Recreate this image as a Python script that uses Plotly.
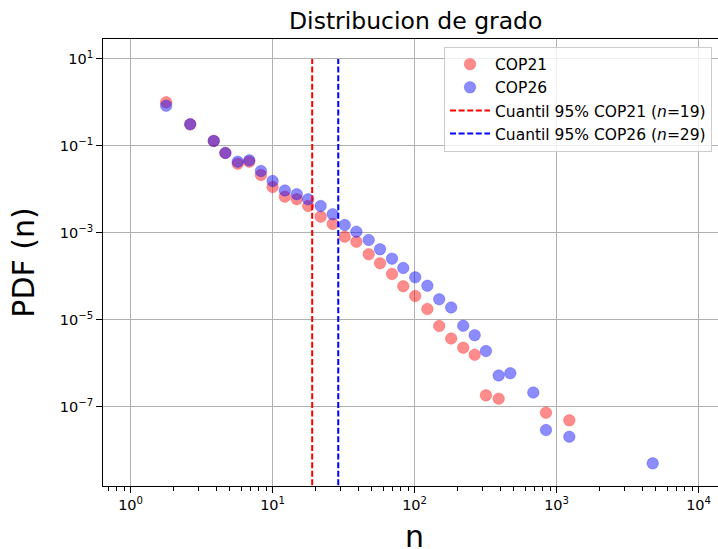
import plotly.graph_objects as go

# Log-binned degree values (bin centres) and probability densities
n_bins = [1.78, 2.63, 3.85, 4.65, 5.68, 6.85, 8.28, 10.0, 12.2, 14.8, 17.8,
          21.8, 26.5, 32.2, 38.9, 47.5, 57.1, 69.3, 83.2, 101, 123, 149, 181,
          220, 265, 318, 391, 472, 685, 842, 1229, 4751]

pdf_cop21 = [1.01, 0.314, 0.130, 0.0687, 0.0389, 0.0433, 0.0214, 0.0113,
             0.00678, 0.00593, 0.00414, 0.00235, 0.00160, 8.13e-4, 6.24e-4,
             3.20e-4, 1.99e-4, 1.13e-4, 5.90e-5, 3.51e-5, 1.76e-5, 7.16e-6,
             3.69e-6, 2.27e-6, 1.56e-6, 1.82e-7, 1.52e-7, None, None,
             7.24e-8, 4.84e-8, None]

pdf_cop26 = [0.842, 0.314, 0.130, 0.0687, 0.0433, 0.0466, 0.0264, 0.0156,
             0.00941, 0.00773, 0.00590, 0.00414, 0.00267, 0.00151, 0.00106,
             6.83e-4, 4.17e-4, 2.54e-4, 1.55e-4, 9.46e-5, 6.03e-5, 2.95e-5,
             1.91e-5, 7.24e-6, 4.40e-6, 1.90e-6, 5.20e-7, 5.87e-7, 2.11e-7,
             2.89e-8, 2.03e-8, 4.95e-9]

q95_cop21 = 19
q95_cop26 = 29
vline_top = 10
vline_bottom = 1e-10

x_tickvals = [1, 10, 100, 1000, 10000]
x_ticktext = ["10<sup>0</sup>", "10<sup>1</sup>", "10<sup>2</sup>",
              "10<sup>3</sup>", "10<sup>4</sup>"]
y_tickvals = [10, 0.1, 1e-3, 1e-5, 1e-7]
y_ticktext = ["10<sup>1</sup>", "10<sup>\u22121</sup>", "10<sup>\u22123</sup>",
              "10<sup>\u22125</sup>", "10<sup>\u22127</sup>"]

# minor log ticks (2..9 within each decade)
x_minor = [k * 10 ** e for e in range(-1, 5) for k in range(2, 10)]

FONT = "DejaVu Sans"

fig = go.Figure()

fig.add_trace(go.Scatter(
    x=n_bins, y=pdf_cop21, mode="markers", name="COP21",
    legendgroup="a",
    marker=dict(size=11.5, color="rgba(255,0,0,0.45)",
                line=dict(width=1, color="rgba(255,0,0,0.25)")),
))
fig.add_trace(go.Scatter(
    x=n_bins, y=pdf_cop26, mode="markers", name="COP26",
    legendgroup="b",
    marker=dict(size=11.5, color="rgba(0,0,255,0.45)",
                line=dict(width=1, color="rgba(0,0,255,0.25)")),
))
fig.add_trace(go.Scatter(
    x=[q95_cop21, q95_cop21], y=[vline_bottom, vline_top], mode="lines",
    name=f"Cuantil 95% COP21 (<i>n</i>={q95_cop21})",
    legendgroup="c",
    line=dict(color="red", width=2, dash="6px,2.6px"),
))
fig.add_trace(go.Scatter(
    x=[q95_cop26, q95_cop26], y=[vline_bottom, vline_top], mode="lines",
    name=f"Cuantil 95% COP26 (<i>n</i>={q95_cop26})",
    legendgroup="d",
    line=dict(color="blue", width=2, dash="6px,2.6px"),
))

fig.update_layout(
    width=718, height=549,
    margin=dict(l=103, r=0, t=39, b=63),
    paper_bgcolor="white", plot_bgcolor="white",
    font=dict(family=FONT, size=14.5, color="black"),
    title=dict(text="Distribucion de grado", x=0.579, xanchor="center",
               y=0.963, yanchor="middle", font=dict(size=23.5)),
    showlegend=True,
    legend=dict(x=0.5545, y=0.983, xanchor="left", yanchor="top",
                bgcolor="rgba(255,255,255,0.8)", bordercolor="#cccccc",
                borderwidth=1, font=dict(size=15.5), tracegroupgap=0,
                itemwidth=40),
)

# x-axis label placed as a paper-anchored annotation below the tick labels
fig.add_annotation(
    text="n", xref="paper", yref="paper", x=0.507, y=-0.113,
    xanchor="center", yanchor="middle", showarrow=False,
    font=dict(size=30, family=FONT, color="black"),
)

fig.update_xaxes(
    type="log", range=[-0.1944, 4.1366], automargin=False,
    tickvals=x_tickvals, ticktext=x_ticktext,
    ticks="outside", ticklen=6, tickcolor="black",
    showgrid=True, gridcolor="#b0b0b0", gridwidth=1,
    showline=True, linecolor="black", linewidth=1, mirror=True,
    zeroline=False,
    minor=dict(tickmode="array", tickvals=x_minor, ticks="outside",
               ticklen=3.5, tickcolor="black", showgrid=False),
)
fig.update_yaxes(
    type="log", range=[-8.827, 1.460], automargin=False,
    tickvals=y_tickvals, ticktext=y_ticktext,
    ticks="outside", ticklen=6, tickcolor="black",
    showgrid=True, gridcolor="#b0b0b0", gridwidth=1,
    showline=True, linecolor="black", linewidth=1, mirror=False,
    zeroline=False,
    title=dict(text="PDF (n)", font=dict(size=30), standoff=16),
)

fig.write_html("out.html")
